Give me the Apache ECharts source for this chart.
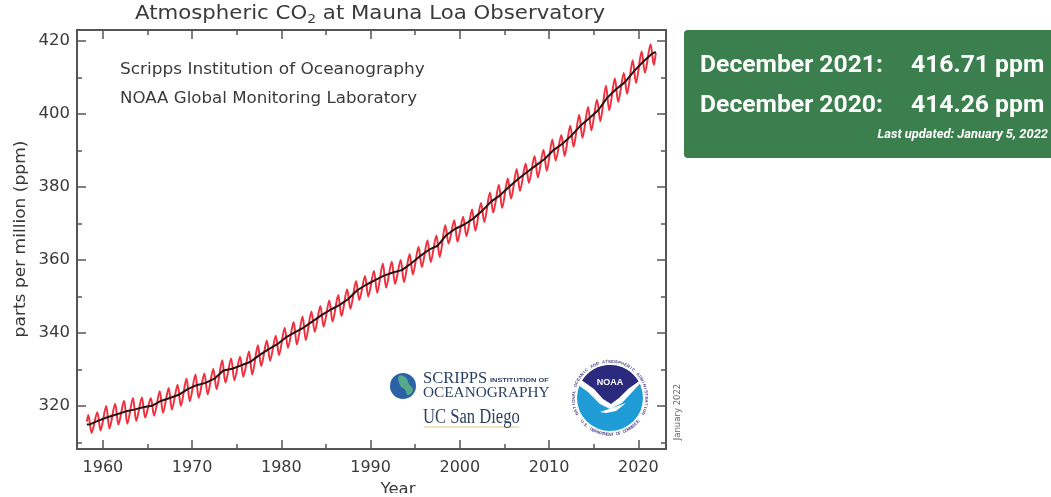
<!DOCTYPE html>
<html>
<head>
<meta charset="utf-8">
<style>
html,body{margin:0;padding:0;background:#fff;overflow:hidden;}
#main{width:1051px;height:497px;filter:blur(0.45px);}
</style>
<script src="https://cdn.jsdelivr.net/npm/echarts@6/dist/echarts.min.js"></script>
</head>
<body>
<div id="main"></div>
<script>
// years of the seasonal cycle, 1958-2021
var firstYear = 1958;
// May maximum of each year (ppm)
var peaks = [317.5,318.3,320.0,320.6,321.4,322.2,322.3,322.2,324.0,324.9,325.8,327.5,328.6,328.9,330.1,332.5,
    333.0,333.5,334.9,336.6,337.9,339.2,341.4,343.0,344.5,345.9,347.4,348.9,350.4,352.0,354.2,355.6,
    357.0,359.0,359.5,360.0,361.6,363.6,365.4,366.7,369.5,370.9,371.8,373.8,375.6,378.5,380.6,382.3,
    384.9,386.4,388.5,390.2,393.0,394.2,396.8,399.8,401.9,403.9,407.7,409.7,411.2,414.7,417.1,419.1];
// autumn minimum of each year (ppm)
var troughs = [312.6,313.3,313.8,314.9,315.1,315.9,316.8,317.3,318.1,319.0,320.0,321.3,322.2,323.2,324.6,326.4,
    327.0,328.0,328.6,330.9,332.4,333.9,335.9,336.8,338.0,340.3,341.7,343.1,344.6,346.6,349.0,350.0,
    351.0,352.4,353.4,353.9,356.0,358.0,359.4,360.8,364.5,365.0,366.5,368.0,370.4,373.0,374.2,376.8,
    378.9,381.1,382.6,384.4,387.2,388.5,391.0,393.5,395.5,398.0,401.0,403.3,405.5,408.5,411.3,413.4];
// black curve, yearly level 1959-2021
var trendYears = [1959,1960,1961,1962,1963,1964,1965,1966,1967,1968,1969,1970,1971,1972,1973,1974,1975,1976,1977,1978,
    1979,1980,1981,1982,1983,1984,1985,1986,1987,1988,1989,1990,1991,1992,1993,1994,1995,1996,1997,1998,
    1999,2000,2001,2002,2003,2004,2005,2006,2007,2008,2009,2010,2011,2012,2013,2014,2015,2016,2017,2018,
    2019,2020,2021];
var trend = [315.98,316.91,317.64,318.45,318.99,319.62,320.04,321.37,322.18,323.05,324.62,325.68,326.32,327.46,329.68,330.19,
    331.13,332.03,333.84,335.41,336.84,338.76,340.12,341.48,343.15,344.87,346.35,347.61,349.31,351.69,353.20,354.45,
    355.70,356.54,357.21,358.96,360.97,362.74,363.88,366.84,368.54,369.71,371.32,373.45,375.98,377.70,379.98,382.09,
    384.02,385.83,387.64,390.10,391.85,394.06,396.74,398.81,401.01,404.41,406.76,408.72,411.66,414.24,416.45];
var yMajor = [320,340,360,380,400,420];
var yMinor = [310,330,350,370,390,410];
var xMajor = [1960,1970,1980,1990,2000,2010,2020];
var xMinor = [1965,1975,1985,1995,2005,2015];

var AXIS = '#555';
var TXT = '#3a3a3a';
var FONT = '"DejaVu Sans"';

var redData = [[1958.2,315.7]];
peaks.forEach(function(v,i){
    redData.push([firstYear+i+0.37, v]);
    redData.push([firstYear+i+0.74, troughs[i]]);
});
redData.push([2021.96,416.71]);

var blackData = [[1958.2,314.9],[1958.6,315.0]];
trend.forEach(function(v,i){
    blackData.push([trendYears[i]+0.5, v]);
});
blackData.push([2021.96,417.0]);

function plain(v){ return String(v); }

function xAx(pos,ticks,len,show){
    return {type:'value',min:1957.1,max:2023.1,position:pos,splitLine:{show:false},
        axisLine:{show:true,onZero:false,lineStyle:{color:AXIS,width:2}},
        axisTick:{show:true,inside:true,length:len,customValues:ticks,lineStyle:{color:AXIS,width:1.5}},
        axisLabel:show?{show:true,customValues:ticks,margin:11,fontFamily:FONT,fontSize:16,color:TXT,formatter:plain}:{show:false}};
}
function yAx(pos,ticks,len,show){
    return {type:'value',min:308.2,max:423,position:pos,splitLine:{show:false},
        axisLine:{show:true,onZero:false,lineStyle:{color:AXIS,width:2}},
        axisTick:{show:true,inside:true,length:len,customValues:ticks,lineStyle:{color:AXIS,width:1.5}},
        axisLabel:show?{show:true,customValues:ticks,margin:7,fontFamily:FONT,fontSize:16.5,color:TXT,formatter:plain}:{show:false}};
}

function arcPts(cx,cy,r,a0,a1,n){
    var p=[];
    for(var i=0;i<=n;i++){
        var a=(a0+(a1-a0)*i/n)*Math.PI/180;
        p.push([cx+r*Math.cos(a),cy+r*Math.sin(a)]);
    }
    return p;
}
function txt(x,y,s,size,opt){
    opt=opt||{};
    return {type:'text',x:x,y:y,rotation:opt.rot||0,scaleX:opt.sx||1,z:opt.z||10,style:{text:s,
        font:(opt.w||'normal')+' '+size+'px '+(opt.f||FONT),
        fill:opt.c||TXT,textAlign:opt.a||'left',textVerticalAlign:'middle'}};
}

var gfx = [
    // title
    {type:'text',x:370,y:14,scaleX:1.12,z:10,style:{
        rich:{a:{fontFamily:FONT,fontSize:19,fill:TXT,color:TXT},s:{fontFamily:FONT,fontSize:12.5,fill:TXT,color:TXT,padding:[12,0,0,0]}},
        text:'{a|Atmospheric CO}{s|2}{a| at Mauna Loa Observatory}',textAlign:'center',textVerticalAlign:'middle'}},
    txt(120,69.5,'Scripps Institution of Oceanography',16,{sx:1.06}),
    txt(120,98.5,'NOAA Global Monitoring Laboratory',16,{sx:1.04}),
    txt(21,239,'parts per million (ppm)',15.5,{rot:Math.PI/2,a:'center',sx:1.1}),
    txt(398,490,'Year',15,{a:'center',sx:1.1}),
    txt(678,412,'January 2022',8.5,{rot:Math.PI/2,a:'center',c:'#666'}),
    // green box
    {type:'rect',shape:{x:684,y:30,width:380,height:128,r:4},style:{fill:'#3b7f4e'},z:5},
    txt(700,66,'December 2021:',24.7,{f:'Roboto',w:'bold',c:'#fff'}),
    txt(911,66,'416.71 ppm',24.7,{f:'Roboto',w:'bold',c:'#fff'}),
    txt(700,106,'December 2020:',24.7,{f:'Roboto',w:'bold',c:'#fff'}),
    txt(911,106,'414.26 ppm',24.7,{f:'Roboto',w:'bold',c:'#fff'}),
    txt(1048,135,'Last updated: January 5, 2022',12.9,{f:'Roboto',w:'italic bold',c:'#fff',a:'right'}),
    // scripps logo
    {type:'circle',shape:{cx:403,cy:386,r:13},style:{fill:'#2b62a6'},z:6},
    {type:'polygon',shape:{points:[[399,376],[406,378],[409,384],[413,390],[408,395],[405,390],[400,385]],smooth:0.5},style:{fill:'#58a88a'},z:7},
    txt(423,379,'SCRIPPS',16.5,{f:'"Liberation Serif"',c:'#2d3f63'}),
    txt(490,381,'INSTITUTION OF',5.4,{f:'"Liberation Sans"',w:'bold',c:'#2d3f63',sx:1.37}),
    txt(423,393,'OCEANOGRAPHY',15.3,{f:'"Liberation Serif"',c:'#2d3f63'}),
    txt(423,418,'UC San Diego',20,{f:'"Liberation Serif"',c:'#2d3f63',sx:0.83}),
    {type:'line',shape:{x1:424,y1:427,x2:519,y2:427},style:{stroke:'#e2c884',lineWidth:1},z:6},
    // noaa logo
    {type:'circle',shape:{cx:610,cy:398,r:33},style:{fill:'#1f9bd5'},z:6},
    {type:'polygon',shape:{points:[[574,382],[588,392],[600,404],[610,409],[622,403],[634,390],[647,376],[640,370],[580,370]]},style:{fill:'#fff'},z:7},
    {type:'polygon',shape:{points:arcPts(610,398,33,-148,-30,24).concat([[628,389],[619,398],[611,404],[603,399],[594,389]])},style:{fill:'#2b2a7c'},z:8},
    {type:'polygon',shape:{points:[[600,412],[612,408],[626,403],[616,411],[606,413]]},style:{fill:'#fff'},z:8},
    txt(610,383,'NOAA',9,{f:'"Liberation Sans"',w:'bold',c:'#fff',a:'center',z:9}),
    // crop of the original picture at the bottom
    {type:'rect',shape:{x:0,y:493,width:1051,height:4},style:{fill:'#fff'},z:20}
];

// ring lettering of the noaa seal
var ringTop = 'NATIONAL OCEANIC AND ATMOSPHERIC ADMINISTRATION';
var ringBottom = 'U.S. DEPARTMENT OF COMMERCE';
ringTop.split('').forEach(function(ch,i){
    var a=-205+230*i/(ringTop.length-1), r=a*Math.PI/180;
    gfx.push(txt(610+36.5*Math.cos(r),398+36.5*Math.sin(r),ch,4.3,{rot:-(r+Math.PI/2),a:'center',c:'#5a4f8c',f:'"Liberation Sans"',w:'bold'}));
});
ringBottom.split('').forEach(function(ch,i){
    var a=140-100*i/(ringBottom.length-1), r=a*Math.PI/180;
    gfx.push(txt(610+36.5*Math.cos(r),398+36.5*Math.sin(r),ch,4.3,{rot:-(r-Math.PI/2),a:'center',c:'#5a4f8c',f:'"Liberation Sans"',w:'bold'}));
});

var myChart = echarts.init(document.getElementById('main'));
myChart.setOption({
    animation:false,
    backgroundColor:'#fff',
    grid:{left:77,right:385,top:30,bottom:48,outerBoundsMode:'none'},
    xAxis:[xAx('bottom',xMajor,9,true),xAx('top',xMajor,9,false),xAx('bottom',xMinor,5,false),xAx('top',xMinor,5,false)],
    yAxis:[yAx('left',yMajor,9,true),yAx('right',yMajor,9,false),yAx('left',yMinor,5,false),yAx('right',yMinor,5,false)],
    graphic:gfx,
    series:[
        {name:'monthly',type:'line',data:redData,smooth:0.3,showSymbol:false,lineStyle:{color:'#f0303f',width:2},z:2},
        {name:'trend',type:'line',data:blackData,showSymbol:false,lineStyle:{color:'#231515',width:2},z:3}
    ]
});
</script>
</body>
</html>
